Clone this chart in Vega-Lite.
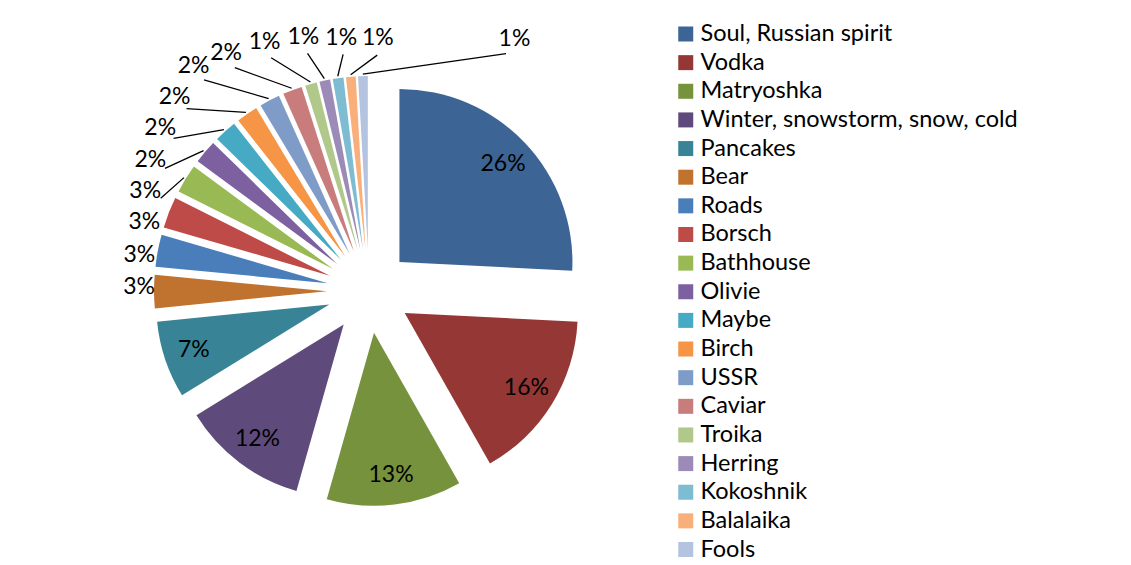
{
  "$schema": "https://vega.github.io/schema/vega-lite/v6.json",
  "width": 722,
  "height": 562,
  "padding": {"left": 8, "top": 10, "right": 0, "bottom": 0},
  "background": "white",
  "config": {"view": {"stroke": null}, "font": "Lato", "text": {"font": "Lato"}},
  "data": {
    "values": [
      {"order": 1, "name": "Soul, Russian spirit", "value": 0.258},
      {"order": 2, "name": "Vodka", "value": 0.160},
      {"order": 3, "name": "Matryoshka", "value": 0.126},
      {"order": 4, "name": "Winter, snowstorm, snow, cold", "value": 0.118},
      {"order": 5, "name": "Pancakes", "value": 0.072},
      {"order": 6, "name": "Bear", "value": 0.031},
      {"order": 7, "name": "Roads", "value": 0.030},
      {"order": 8, "name": "Borsch", "value": 0.029},
      {"order": 9, "name": "Bathhouse", "value": 0.027},
      {"order": 10, "name": "Olivie", "value": 0.022},
      {"order": 11, "name": "Maybe", "value": 0.021},
      {"order": 12, "name": "Birch", "value": 0.020},
      {"order": 13, "name": "USSR", "value": 0.019},
      {"order": 14, "name": "Caviar", "value": 0.018},
      {"order": 15, "name": "Troika", "value": 0.011},
      {"order": 16, "name": "Herring", "value": 0.010},
      {"order": 17, "name": "Kokoshnik", "value": 0.010},
      {"order": 18, "name": "Balalaika", "value": 0.009},
      {"order": 19, "name": "Fools", "value": 0.009}
    ]
  },
  "layer": [
    {
      "mark": {
        "type": "arc",
        "outerRadius": 173,
        "xOffset": {"expr": "42*sin((datum.value_start+datum.value_end)*PI)"},
        "yOffset": {"expr": "-42*cos((datum.value_start+datum.value_end)*PI)"}
      },
      "encoding": {
        "theta": {"field": "value", "type": "quantitative", "stack": true},
        "order": {"field": "order", "type": "quantitative"},
        "color": {
          "field": "name",
          "type": "nominal",
          "scale": {
            "domain": ["Soul, Russian spirit", "Vodka", "Matryoshka", "Winter, snowstorm, snow, cold", "Pancakes", "Bear", "Roads", "Borsch", "Bathhouse", "Olivie", "Maybe", "Birch", "USSR", "Caviar", "Troika", "Herring", "Kokoshnik", "Balalaika", "Fools"],
            "range": ["#3C6494", "#943735", "#76923C", "#5F4B7B", "#388496", "#C0732F", "#4A7EBB", "#BE4B48", "#98B954", "#7D60A0", "#46AAC5", "#F69545", "#7F9CC9", "#C87D7C", "#B0C88A", "#9C8AB7", "#7EBCD2", "#F9AF7A", "#B3C3E0"]
          },
          "legend": {
            "orient": "none",
            "legendX": 666,
            "legendY": 12.25,
            "title": null,
            "symbolType": "square",
            "symbolSize": 225,
            "symbolStrokeWidth": 0,
            "labelFontSize": 23.5,
            "labelFont": "Lato",
            "labelColor": "black",
            "labelLimit": 500,
            "rowPadding": 3.64,
            "labelOffset": 3
          }
        }
      }
    },
    {
      "mark": {
        "type": "text",
        "radius": 143,
        "fontSize": 23,
        "color": "black",
        "xOffset": {"expr": "42*sin((datum.value_start+datum.value_end)*PI)"},
        "yOffset": {"expr": "-42*cos((datum.value_start+datum.value_end)*PI)"}
      },
      "encoding": {
        "theta": {"field": "value", "type": "quantitative", "stack": true},
        "order": {"field": "order", "type": "quantitative"},
        "detail": {"field": "name", "type": "nominal"},
        "text": {
          "condition": {"test": "datum.order <= 5", "field": "value", "type": "quantitative", "format": ".0%"},
          "value": ""
        }
      }
    },
    {
      "transform": [
        {"stack": "value", "groupby": [], "sort": [{"field": "order", "order": "ascending"}], "as": ["s", "e"]},
        {"filter": "datum.order >= 9"}
      ],
      "mark": {"type": "rule", "color": "black", "strokeWidth": 1.3},
      "encoding": {
        "x": {"value": {"expr": "width/2 + 217*sin((datum.s+datum.e)*PI)"}},
        "y": {"value": {"expr": "height/2 - 217*cos((datum.s+datum.e)*PI)"}},
        "x2": {"value": {"expr": "width/2 + (scale('layer_3_radius', datum.order) - 17)*sin(scale('layer_3_theta', datum.order))"}},
        "y2": {"value": {"expr": "height/2 - (scale('layer_3_radius', datum.order) - 17)*cos(scale('layer_3_theta', datum.order))"}}
      }
    },
    {
      "transform": [{"filter": "datum.order >= 6"}],
      "mark": {"type": "text", "fontSize": 23, "color": "black"},
      "encoding": {
        "theta": {
          "field": "order",
          "type": "quantitative",
          "stack": null,
          "scale": {"domain": [6, 8, 14, 18, 19], "range": [4.72984, 5.00909, 5.74213, 6.31809, 6.80678], "zero": false, "nice": false}
        },
        "radius": {
          "field": "order",
          "type": "quantitative",
          "scale": {"type": "linear", "domain": [6, 8, 13, 15, 17, 18, 19], "range": [230, 235, 285, 270, 255, 253, 291], "zero": false, "nice": false}
        },
        "text": {"field": "value", "type": "quantitative", "format": ".0%"}
      }
    }
  ],
  "resolve": {"scale": {"theta": "independent", "radius": "independent"}}
}
